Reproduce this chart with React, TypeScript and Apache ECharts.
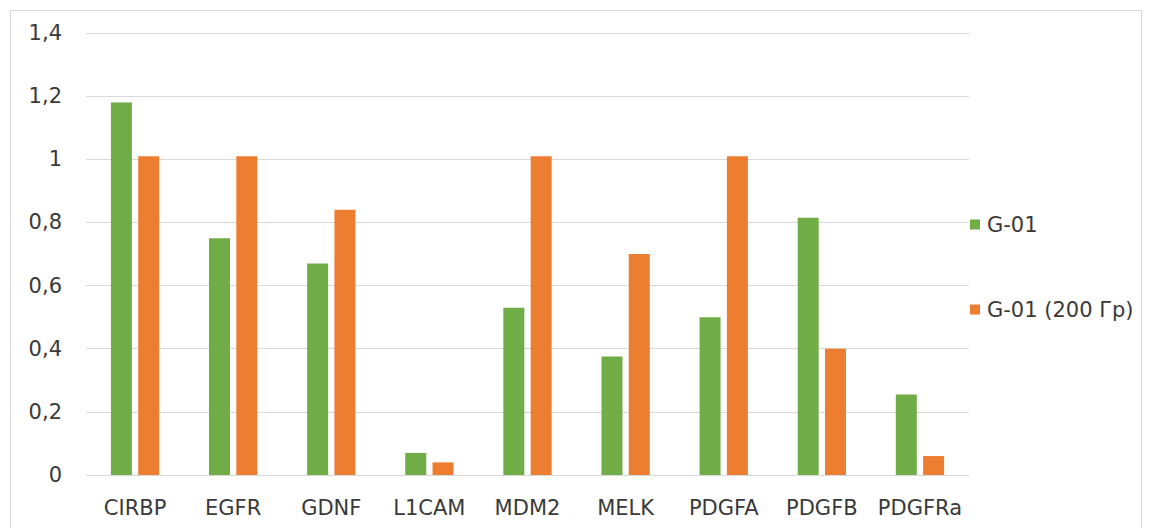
import React, { useEffect, useRef } from "react";
import * as echarts from "echarts";

const categories = ["CIRBP", "EGFR", "GDNF", "L1CAM", "MDM2", "MELK", "PDGFA", "PDGFB", "PDGFRa"];
const seriesNames = ["G-01", "G-01 (200 Гр)"];
const greenValues = [1.18, 0.75, 0.67, 0.07, 0.53, 0.375, 0.5, 0.815, 0.255];
const orangeValues = [1.01, 1.01, 0.84, 0.04, 1.01, 0.7, 1.01, 0.4, 0.06];
const yTicks = [0, 0.2, 0.4, 0.6, 0.8, 1, 1.2, 1.4];

export default function App() {
  const ref = useRef<HTMLDivElement>(null);
  useEffect(() => {
    if (!ref.current) return;
    const chart = echarts.init(ref.current, null, { renderer: "svg" });
    const font = "DejaVu Sans";
    const textColor = "#3a3a3a";
    chart.setOption({
      animation: false,
      backgroundColor: "#ffffff",
      textStyle: { fontFamily: font },
      graphic: [
        {
          type: "rect",
          shape: { x: 10.5, y: 10.5, width: 1131, height: 540 },
          style: { fill: "none", stroke: "#d9d9d9", lineWidth: 1 },
          silent: true,
        },
      ],
      grid: { left: 86, right: 183, top: 33, bottom: 53 },
      legend: {
        orient: "vertical",
        left: 970,
        top: 214,
        padding: 0,
        itemWidth: 10,
        itemHeight: 10,
        itemGap: 64,
        icon: "rect",
        data: seriesNames,
        textStyle: { fontFamily: font, fontSize: 21, color: textColor, padding: [0, 0, 0, 2] },
      },
      xAxis: {
        type: "category",
        data: categories,
        axisLine: { lineStyle: { color: "#d9d9d9", width: 1 } },
        axisTick: { show: false },
        axisLabel: { interval: 0, fontFamily: font, fontSize: 21, color: textColor, margin: 22 },
      },
      yAxis: {
        type: "value",
        min: yTicks[0],
        max: yTicks[yTicks.length - 1],
        interval: 0.2,
        axisLine: { show: false },
        axisTick: { show: false },
        splitLine: { lineStyle: { color: "#d9d9d9", width: 1 } },
        axisLabel: {
          fontFamily: font,
          fontSize: 21,
          color: textColor,
          margin: 24,
          formatter: (v: number) => String(Math.round(v * 10) / 10).replace(".", ","),
        },
      },
      series: [
        {
          name: seriesNames[0],
          type: "bar",
          data: greenValues,
          barWidth: 21,
          barGap: "30%",
          itemStyle: { color: "#70ad47" },
        },
        {
          name: seriesNames[1],
          type: "bar",
          data: orangeValues,
          barWidth: 21,
          barGap: "30%",
          itemStyle: { color: "#ed7d31" },
        },
      ],
    });
    return () => chart.dispose();
  }, []);
  return (
    <div
      ref={ref}
      style={{ position: "fixed", left: 0, top: 0, width: 1152, height: 528 }}
    />
  );
}
